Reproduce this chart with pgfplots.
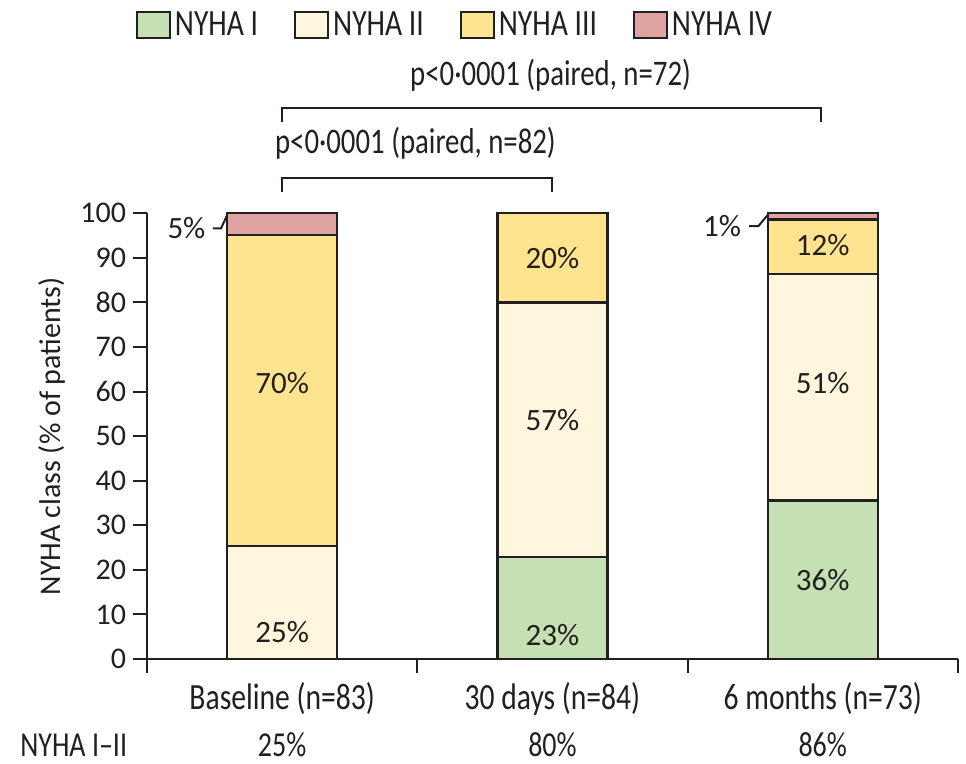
\documentclass[border=0pt]{standalone}
\usepackage{pgfplots}
\pgfplotsset{compat=1.18}
\usepackage{fontspec}
\setmainfont{Carlito}
\newfontfamily\cond[FakeStretch=0.8]{Carlito}
\definecolor{cI}{HTML}{C5E0B3}
\definecolor{cII}{HTML}{FFF7DD}
\definecolor{cIII}{HTML}{FFE48F}
\definecolor{cIV}{HTML}{DFA3A2}
\definecolor{dark}{HTML}{231F20}
\tikzset{vlab/.style={font=\fontsize{15.5}{18}\selectfont, text=dark},
  clab/.style={font=\cond\fontsize{17.5}{20}\selectfont, text=dark},
  plab/.style={font=\cond\fontsize{18}{21}\selectfont, text=dark}}
\begin{document}
\begin{tikzpicture}
\begin{axis}[
  width=405.5pt, height=223pt, scale only axis,
  xmin=-0.5, xmax=2.5, ymin=0, ymax=100,
  axis x line*=bottom, axis y line*=left,
  axis line style={line width=1pt, draw=dark},
  ybar stacked, bar width=0.407,
  clip=false,
  xtick={-0.5,0.5,1.5,2.5}, xticklabels={},
  extra x ticks={0,1,2},
  extra x tick labels={Baseline (n=83), 30 days (n=84), 6 months (n=73)},
  extra x tick style={tick style={draw=none}, tick label style={font=\cond\fontsize{18.5}{21}\selectfont, yshift=-1pt, text=dark}},
  ytick={0,10,...,100},
  tick align=outside, major tick length=7pt,
  tick style={line width=1pt, draw=dark},
  yticklabel style={font=\fontsize{15}{18}\selectfont, text=dark},
  /pgf/number format/assume math mode=true,
  ylabel={NYHA class (\% of patients)},
  ylabel style={font=\fontsize{15}{18}\selectfont, text=dark, at={(axis description cs:-0.117,0.5)}, anchor=center},
  legend columns=4,
  legend style={draw=none, fill=none, at={(rel axis cs:0.381,1.421)}, anchor=center,
    font=\cond\fontsize{18.5}{21}\selectfont, text=dark,
    /tikz/every even column/.append style={column sep=16pt}},
  legend image code/.code={\draw[#1, line width=1pt] (0pt,-6.5pt) rectangle (16.5pt,6.5pt);},
  after end axis/.code={
    \node[vlab] at (axis cs:0,6) {25\%};
    \node[vlab] at (axis cs:0,62) {70\%};
    \node[vlab] at (axis cs:1,5.4) {23\%};
    \node[vlab] at (axis cs:1,53.6) {57\%};
    \node[vlab] at (axis cs:1,90) {20\%};
    \node[vlab] at (axis cs:2,17.7) {36\%};
    \node[vlab] at (axis cs:2,61.9) {51\%};
    \node[vlab] at (axis cs:2,92.8) {12\%};
  },
]
\addplot[fill=cI, draw=dark, line width=1.2pt] coordinates {(0,0) (1,22.9) (2,35.6)};
\addplot[fill=cII, draw=dark, line width=1.2pt] coordinates {(0,25.3) (1,57.1) (2,50.8)};
\addplot[fill=cIII, draw=dark, line width=1.2pt] coordinates {(0,69.8) (1,20.0) (2,12.2)};
\addplot[fill=cIV, draw=dark, line width=1.2pt] coordinates {(0,4.9) (1,0) (2,1.4)};
\legend{NYHA I, NYHA II, NYHA III, NYHA IV}

\node[vlab, anchor=east] at (axis cs:-0.258,96.6) {5\%};
\node[vlab, anchor=east] at (axis cs:1.724,97.1) {1\%};
\draw[dark, line width=1pt] (axis cs:-0.256,96.6) -- (axis cs:-0.226,96.6) -- (axis cs:-0.2035,99.6);
\draw[dark, line width=1pt] (axis cs:1.728,97.1) -- (axis cs:1.762,97.1) -- (axis cs:1.7965,99.6);

\draw[dark, line width=1pt] (axis cs:0,104.7) -- (axis cs:0,107.8) -- (axis cs:1,107.8) -- (axis cs:1,104.7);
\draw[dark, line width=1pt] (axis cs:0,120.4) -- (axis cs:0,123.5) -- (axis cs:1.993,123.5) -- (axis cs:1.993,120.4);
\node[plab] at (axis cs:0.493,115.7) {p<0·0001 (paired, n=82)};
\node[plab] at (axis cs:0.993,131.0) {p<0·0001 (paired, n=72)};

\node[clab, anchor=west] at (axis cs:-0.995,-19.3) {NYHA I–II};
\node[clab] at (axis cs:0,-19.3) {25\%};
\node[clab] at (axis cs:1,-19.3) {80\%};
\node[clab] at (axis cs:2,-19.3) {86\%};

\path (axis cs:-1.044,-22.2) rectangle (axis cs:2.53,147.8);
\end{axis}
\end{tikzpicture}
\end{document}
